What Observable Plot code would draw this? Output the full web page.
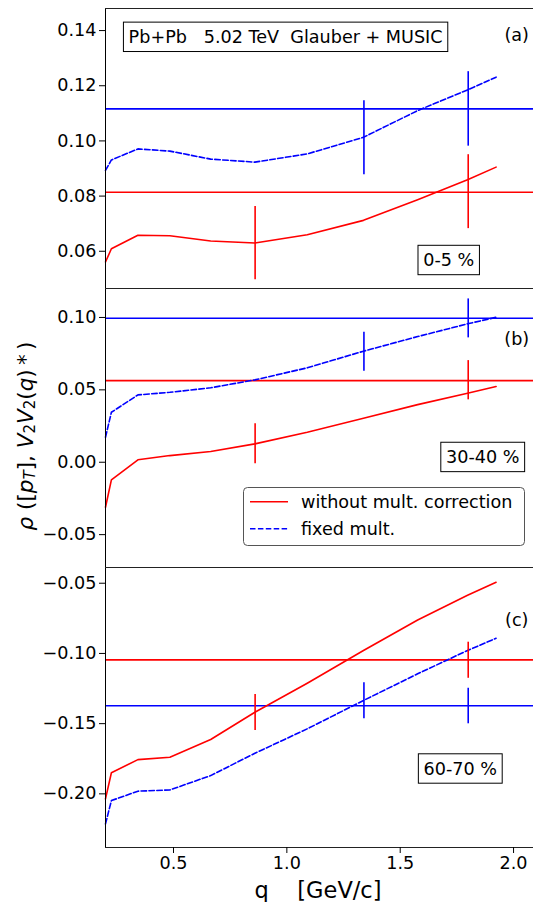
<!DOCTYPE html>
<html><head><meta charset="utf-8">
<script src="https://cdn.jsdelivr.net/npm/d3@7"></script>
<script src="https://cdn.jsdelivr.net/npm/@observablehq/plot@0.6"></script>
<style>
body{margin:0;background:#fff;}
#fig{position:relative;width:533px;height:902px;overflow:hidden;font-family:"DejaVu Sans",sans-serif;}
#fig > svg{position:absolute;left:0;}
#fig text{white-space:pre;}
</style></head><body><div id="fig"></div>
<script>
// ---- data ----
const q = [0.2, 0.226, 0.343, 0.484, 0.664, 0.859, 1.09, 1.338, 1.577, 1.797, 1.923];

const redA  = [0.0561, 0.0609, 0.0658, 0.0656, 0.0637, 0.0630, 0.0660, 0.0712, 0.0787, 0.0859, 0.0905];
const blueA = [0.0893, 0.0931, 0.0971, 0.0963, 0.0934, 0.0923, 0.0953, 0.1013, 0.1110, 0.1185, 0.1231];
const redB  = [-0.0311, -0.0122, 0.0017, 0.0046, 0.0074, 0.0127, 0.0207, 0.0304, 0.0398, 0.0477, 0.0523];
const blueB = [0.0173, 0.0345, 0.0465, 0.0483, 0.0514, 0.0569, 0.0652, 0.0767, 0.0868, 0.0956, 0.1001];
const redC  = [-0.2036, -0.1850, -0.1756, -0.1739, -0.1613, -0.1419, -0.1212, -0.0979, -0.0762, -0.0586, -0.0493];
const blueC = [-0.2214, -0.2048, -0.1981, -0.1972, -0.1870, -0.1711, -0.1537, -0.1335, -0.1145, -0.0979, -0.0892];

// constant (horizontal) references
const hRed  = [0.0814, 0.0564, -0.1046];
const hBlue = [0.1116, 0.0995, -0.1373];

// vertical bars: q position, low, high
const barQ = [0.86, 1.8];
const barQBlue = [1.34, 1.8];
const barsRedA  = [[0.0497, 0.0762], [0.0682, 0.0950]];
const barsBlueA = [[0.0877, 0.1146], [0.0981, 0.1251]];
const barsRedB  = [[-0.0011, 0.0265], [0.0431, 0.0702]];
const barsBlueB = [[0.0628, 0.0898], [0.0859, 0.1128]];
const barsRedC  = [[-0.1549, -0.1293], [-0.1177, -0.0920]];
const barsBlueC = [[-0.1466, -0.1209], [-0.1501, -0.1248]];

// ticks
const xTicks = [0.5, 1.0, 1.5, 2.0];
const yTicksA = [0.06, 0.08, 0.10, 0.12, 0.14];
const yTicksB = [-0.05, 0.00, 0.05, 0.10];
const yTicksC = [-0.20, -0.15, -0.10, -0.05];

// texts
const titleText = "Pb+Pb   5.02 TeV  Glauber + MUSIC";
const panelTags = ["(a)", "(b)", "(c)"];
const centTexts = ["0-5 %", "30-40 %", "60-70 %"];
const legendTexts = ["without mult. correction", "fixed mult."];
const yLabelParts = ["ρ", " ([", "p", "T", "], ", "V", "2", "V", "2", "(", "q", ")\u2009*\u2009)"];
const xLabelText = "q    [GeV/c]";

// ---- styling / layout ----
const RED = "#ff0000", BLUE = "#0000ff", LW = 1.6, DASH = "5.5,2.4";
const W = 533, ML = 105;
const xDomain = [0.2, 2.088];
const font = "DejaVu Sans";
const FS = 17.6;
const boxedSet = new Set([titleText, ...centTexts]);

const fig = document.getElementById("fig");

function panel(cfg) {
  const redData = q.map((x, i) => ({q: x, v: cfg.red[i]}));
  const blueData = q.map((x, i) => ({q: x, v: cfg.blue[i]}));
  const rb = barQ.map((x, i) => ({q: x, lo: cfg.redBars[i][0], hi: cfg.redBars[i][1]}));
  const bb = barQBlue.map((x, i) => ({q: x, lo: cfg.blueBars[i][0], hi: cfg.blueBars[i][1]}));
  const marks = [
    Plot.ruleY([cfg.hRed], {stroke: RED, strokeWidth: LW}),
    Plot.ruleY([cfg.hBlue], {stroke: BLUE, strokeWidth: LW}),
    Plot.line(redData, {x: "q", y: "v", stroke: RED, strokeWidth: LW}),
    Plot.line(blueData, {x: "q", y: "v", stroke: BLUE, strokeWidth: LW, strokeDasharray: DASH}),
    Plot.ruleX(rb, {x: "q", y1: "lo", y2: "hi", stroke: RED, strokeWidth: LW}),
    Plot.ruleX(bb, {x: "q", y1: "lo", y2: "hi", stroke: BLUE, strokeWidth: LW}),
    Plot.ruleX([xDomain[0]], {stroke: "black", strokeWidth: 1}),
    Plot.ruleY([cfg.yDomain[1]], {stroke: "#222", strokeWidth: 1}),
    Plot.axisY({ticks: cfg.yTicks, tickFormat: d3.format(".2f"), tickSize: 6, tickPadding: 3, label: null, fontSize: FS}),
    Plot.text([cfg.tag], {x: cfg.tagPos[0], y: cfg.tagPos[1], text: d => d, textAnchor: "middle", fontSize: FS, fill: "black"}),
    Plot.text([cfg.cent], {x: cfg.centPos[0], y: cfg.centPos[1], text: d => d, textAnchor: "middle", fontSize: FS, fill: "black"})
  ];
  if (cfg.title) marks.push(Plot.text([cfg.title], {x: cfg.titlePos[0], y: cfg.titlePos[1], text: d => d, textAnchor: "start", fontSize: FS, fill: "black"}));
  if (cfg.bottom) {
    marks.push(Plot.ruleY([cfg.yDomain[0]], {stroke: "#222", strokeWidth: 1}));
    marks.push(Plot.axisX({ticks: xTicks, tickFormat: d3.format(".1f"), tickSize: 6, tickPadding: 3, label: null, fontSize: FS}));
  }
  const svg = Plot.plot({
    width: W, height: cfg.height,
    marginLeft: ML, marginRight: 0, marginTop: cfg.mt, marginBottom: cfg.mb,
    x: {domain: xDomain, axis: cfg.bottom ? undefined : null},
    y: {domain: cfg.yDomain},
    style: {fontFamily: font, fontSize: FS + "px", background: "transparent", overflow: "visible", color: "black"},
    marks
  });
  svg.style.top = cfg.top + "px";
  fig.appendChild(svg);
  // draw boxes around boxed texts
  svg.querySelectorAll("text").forEach(t => {
    if (!boxedSet.has(t.textContent)) return;
    const b = t.getBBox();
    const p = 5.2;
    const r = document.createElementNS("http://www.w3.org/2000/svg", "rect");
    r.setAttribute("x", b.x - p); r.setAttribute("y", b.y - p + 0.5);
    r.setAttribute("width", b.width + 2 * p); r.setAttribute("height", b.height + 2 * p - 1);
    r.setAttribute("fill", "white"); r.setAttribute("stroke", "black"); r.setAttribute("stroke-width", 1);
    if (t.getAttribute("transform")) r.setAttribute("transform", t.getAttribute("transform"));
    t.parentNode.insertBefore(r, t);
  });
  return svg;
}

panel({top: 0, height: 288, mt: 8, mb: 0, yDomain: [0.0465, 0.1480], yTicks: yTicksA,
  red: redA, blue: blueA, hRed: hRed[0], hBlue: hBlue[0], redBars: barsRedA, blueBars: barsBlueA,
  tag: panelTags[0], tagPos: [2.014, 0.1382], cent: centTexts[0], centPos: [1.714, 0.0567],
  title: titleText, titlePos: [0.302, 0.1376]});
panel({top: 288, height: 279, mt: 0, mb: 0, yDomain: [-0.0727, 0.1200], yTicks: yTicksB,
  red: redB, blue: blueB, hRed: hRed[1], hBlue: hBlue[1], redBars: barsRedB, blueBars: barsBlueB,
  tag: panelTags[1], tagPos: [2.014, 0.0852], cent: centTexts[1], centPos: [1.864, 0.0034]});
panel({top: 567, height: 335, mt: 0, mb: 55, yDomain: [-0.2382, -0.0388], yTicks: yTicksC,
  red: redC, blue: blueC, hRed: hRed[2], hBlue: hBlue[2], redBars: barsRedC, blueBars: barsBlueC,
  tag: panelTags[2], tagPos: [2.014, -0.0761], cent: centTexts[2], centPos: [1.765, -0.1822], bottom: true});

// ---- overlay: axis labels and legend ----
const ov = d3.select(fig).append("svg").attr("width", W).attr("height", 902)
  .style("top", "0px").style("font-family", font).style("pointer-events", "none");

// y label
const yl = ov.append("text").attr("transform", "translate(25,436) rotate(-90)")
  .attr("text-anchor", "middle").attr("dominant-baseline", "central").attr("font-size", 21.5).attr("fill", "black");
const italic = new Set([0, 2, 3, 5, 7, 10]);
const subs = new Set([3, 6, 8]);
yLabelParts.forEach((s, i) => {
  const ts = yl.append("tspan").text(s);
  if (italic.has(i)) ts.attr("font-style", "italic");
  if (subs.has(i)) ts.attr("font-size", 15).attr("dy", 5);
  else if (subs.has(i - 1)) ts.attr("dy", -5);
});

// x label
ov.append("text").attr("x", 318).attr("y", 890).attr("text-anchor", "middle")
  .attr("dominant-baseline", "central").attr("font-size", 22.5).attr("fill", "black").text(xLabelText);

// legend
const lg = ov.append("g");
lg.append("rect").attr("x", 243.5).attr("y", 487.5).attr("width", 281).attr("height", 58).attr("rx", 4)
  .attr("fill", "white").attr("fill-opacity", 0.8).attr("stroke", "#555").attr("stroke-width", 1);
const rows = [{c: RED, d: null, y: 501.7}, {c: BLUE, d: DASH, y: 528.8}];
rows.forEach((r, i) => {
  const l = lg.append("line").attr("x1", 250).attr("x2", 288).attr("y1", r.y).attr("y2", r.y)
    .attr("stroke", r.c).attr("stroke-width", LW);
  if (r.d) l.attr("stroke-dasharray", r.d);
  lg.append("text").attr("x", 301).attr("y", r.y).attr("dominant-baseline", "central")
    .attr("font-size", FS).attr("fill", "black").text(legendTexts[i]);
});
</script></body></html>
